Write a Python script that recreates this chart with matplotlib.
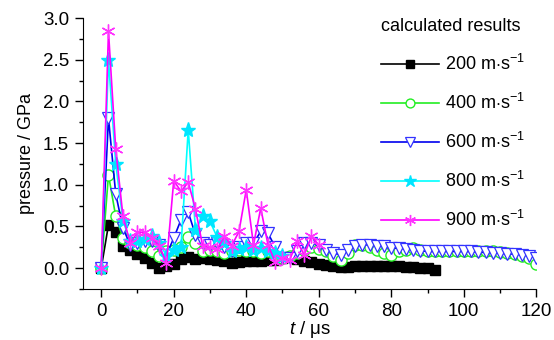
import numpy as np
import matplotlib
matplotlib.use('Agg')
import matplotlib.pyplot as plt
from matplotlib.ticker import MultipleLocator

# time axis (us), 2 us steps
t200 = np.arange(0, 93, 2)
p200 = [0.0, 0.52, 0.43, 0.27, 0.22, 0.17, 0.12, 0.06, 0.0, 0.03,
        0.05, 0.11, 0.13, 0.11, 0.12, 0.11, 0.10, 0.08, 0.06, 0.07,
        0.09, 0.08, 0.09, 0.10, 0.10, 0.12, 0.13, 0.11, 0.09, 0.07,
        0.05, 0.04, 0.03, 0.01, 0.01, 0.02, 0.02, 0.02, 0.02, 0.02,
        0.02, 0.02, 0.01, 0.01, 0.0, 0.0, -0.02]

t400 = np.arange(0, 121, 2)
p400 = [0.0, 1.12, 0.62, 0.36, 0.30, 0.28, 0.25, 0.20, 0.15, 0.20,
        0.22, 0.25, 0.37, 0.30, 0.20, 0.22, 0.20, 0.18, 0.20, 0.22,
        0.20, 0.20, 0.18, 0.20, 0.15, 0.12, 0.15, 0.18, 0.22, 0.25,
        0.23, 0.20, 0.15, 0.10, 0.18, 0.28, 0.28, 0.25, 0.22, 0.18,
        0.16, 0.20, 0.22, 0.24, 0.22, 0.20, 0.20, 0.20, 0.21, 0.21,
        0.20, 0.20, 0.21, 0.21, 0.20, 0.19, 0.18, 0.17, 0.15, 0.12,
        0.05]

t600 = np.arange(0, 121, 2)
p600 = [0.0, 1.80, 0.89, 0.48, 0.28, 0.30, 0.32, 0.32, 0.28, 0.16,
        0.36, 0.58, 0.67, 0.40, 0.30, 0.28, 0.30, 0.25, 0.20, 0.25,
        0.30, 0.30, 0.44, 0.42, 0.25, 0.12, 0.12, 0.20, 0.30, 0.30,
        0.28, 0.22, 0.18, 0.16, 0.22, 0.26, 0.28, 0.28, 0.27, 0.26,
        0.24, 0.24, 0.23, 0.22, 0.21, 0.20, 0.20, 0.20, 0.20, 0.20,
        0.20, 0.20, 0.19, 0.19, 0.18, 0.18, 0.17, 0.17, 0.16, 0.15,
        0.12]

t800 = np.arange(0, 51, 2)
p800 = [0.0, 2.50, 1.25, 0.57, 0.32, 0.33, 0.35, 0.38, 0.30, 0.15,
        0.22, 0.25, 1.66, 0.46, 0.62, 0.56, 0.37, 0.30, 0.20, 0.23,
        0.25, 0.22, 0.24, 0.20, 0.18, 0.15]

t900 = np.arange(0, 61, 2)
p900 = [0.0, 2.84, 1.43, 0.62, 0.30, 0.43, 0.43, 0.36, 0.27, 0.06,
        1.05, 0.92, 1.03, 0.71, 0.26, 0.25, 0.23, 0.38, 0.27, 0.44,
        0.94, 0.28, 0.72, 0.28, 0.07, 0.12, 0.10, 0.32, 0.16, 0.38,
        0.28]

labels = ['200', '400', '600', '800', '900']

plt.rcParams['font.family'] = ['Liberation Sans', 'DejaVu Sans']
plt.rcParams['mathtext.fontset'] = 'custom'
plt.rcParams['mathtext.rm'] = 'Liberation Sans'
plt.rcParams['mathtext.it'] = 'Liberation Sans:italic'

fig = plt.figure(figsize=(5.54, 3.4), dpi=100)
ax = fig.add_axes([0.150, 0.150, 0.818, 0.797])

ms = 6
unit = r' m$\cdot$s$^{-1}$'
ax.plot(t200, p200, '-', color='black', lw=1.2, marker='s', ms=ms + 1,
        mfc='black', mec='black', label=labels[0] + unit)
ax.plot(t400, p400, '-', color='#22ee22', lw=1.2, marker='o', ms=ms + 2,
        mfc='white', mec='#22ee22', mew=1.0, label=labels[1] + unit)
ax.plot(t600, p600, '-', color='#0000ee', lw=1.2, marker='v', ms=ms + 3,
        mfc='white', mec='#3333ff', mew=0.9, label=labels[2] + unit)
ax.plot(t800, p800, '-', color='#00ffff', lw=1.2, marker='*', ms=ms + 5,
        mfc='#00e5ff', mec='#00e5ff', label=labels[3] + unit)
ax.plot(t900, p900, '-', color='#ff00ff', lw=1.2, marker=(6, 2, 0),
        ms=ms + 4, mec='#ff33ff', mew=1.0, label=labels[4] + unit)

ax.set_xlim(-5, 120)
ax.set_ylim(-0.25, 3.0)
ax.xaxis.set_major_locator(MultipleLocator(20))
ax.xaxis.set_minor_locator(MultipleLocator(10))
ax.yaxis.set_major_locator(MultipleLocator(0.5))
ax.yaxis.set_minor_locator(MultipleLocator(0.25))
ax.yaxis.set_major_formatter(matplotlib.ticker.FormatStrFormatter('%.1f'))
ax.spines['top'].set_visible(False)
ax.spines['right'].set_visible(False)
ax.tick_params(which='major', direction='out', length=6, width=1,
               labelsize=13.5, pad=4)
ax.tick_params(which='minor', direction='out', length=3, width=1)

ax.set_xlabel(r'$\it{t}$ / μs', fontsize=13.5, labelpad=-1)
ax.set_ylabel('pressure / GPa', fontsize=13, labelpad=6)

leg = ax.legend(loc='upper right', bbox_to_anchor=(1.01, 1.06), frameon=False,
                title='calculated results', fontsize=13, title_fontsize=13,
                handlelength=3.2, labelspacing=1.05, handletextpad=0.3,
                markerscale=0.8)
leg._legend_box.align = 'left'

fig.savefig('out.png', dpi=100)
